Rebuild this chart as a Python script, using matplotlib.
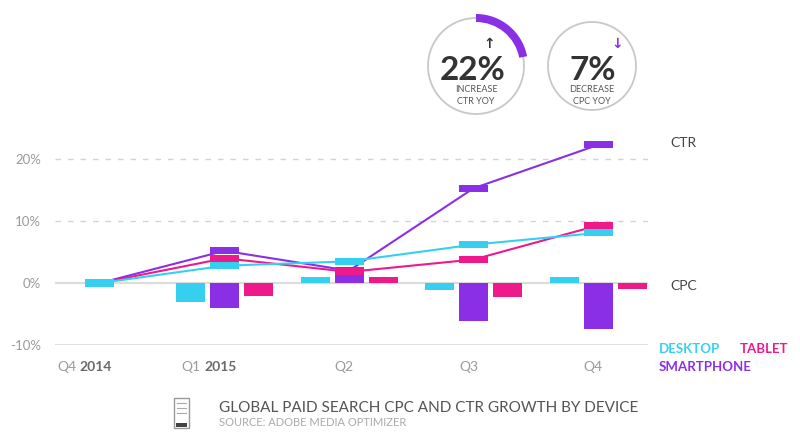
import numpy as np
import matplotlib
matplotlib.use("Agg")
import matplotlib.pyplot as plt
from matplotlib.patches import Circle, Wedge, Rectangle

plt.rcParams['font.family'] = ['Lato', 'DejaVu Sans']

quarters = ["Q4", "Q1", "Q2", "Q3", "Q4"]
years = ["2014", "2015", "", "", ""]
devices = ["DESKTOP", "SMARTPHONE", "TABLET"]
colors = {"DESKTOP": "#35d0f0", "SMARTPHONE": "#8b2fe6", "TABLET": "#ee1a8c"}

# CPC growth vs Q4 2014 (%)
cpc = {
    "DESKTOP":    [0.0, -3.1, 1.0, -1.1, 0.9],
    "SMARTPHONE": [0.0, -4.1, 1.5, -6.2, -7.4],
    "TABLET":     [0.0, -2.1, 1.0, -2.2, -0.9],
}
# CTR growth vs Q4 2014 (%)
ctr = {
    "DESKTOP":    [0.0, 2.8, 3.5, 6.2, 8.1],
    "SMARTPHONE": [0.0, 5.2, 2.0, 15.3, 22.3],
    "TABLET":     [0.0, 4.0, 1.8, 3.8, 9.3],
}
yticks = [-10, 0, 10, 20]

W, H = 800, 441
fig = plt.figure(figsize=(W / 100, H / 100), dpi=100)

# main chart axes, placed in pixels
left, right, top, bottom = 55, 648, 130, 345
ax = fig.add_axes([left / W, 1 - bottom / H, (right - left) / W, (bottom - top) / H])
x = np.arange(len(quarters))
ax.set_xlim(-0.361, 4.40)
ax.set_ylim(-10, 24.7)
for s in ax.spines.values():
    s.set_visible(False)
ax.set_xticks([])
ax.set_yticks(yticks)
ax.set_yticklabels([f"{t}%" for t in yticks], color="#9a9a9a", fontsize=9.5)
ax.tick_params(axis="y", length=0, pad=10)

ax.axhline(0, color="#dcdcdc", lw=1.6, zorder=0)
ax.axhline(-10, color="#dcdcdc", lw=2, zorder=0)
for t in (10, 20):
    ax.axhline(t, color="#d4d4d4", lw=1, ls=(0, (4, 5)), zorder=0)

bw = 0.233
offs = {"DESKTOP": -0.273, "SMARTPHONE": 0.0, "TABLET": 0.273}
for d in devices:
    ax.bar(x + offs[d], cpc[d], width=bw, color=colors[d], zorder=2)

# CTR lines with flat markers at the centre slot
for d in ["SMARTPHONE", "TABLET", "DESKTOP"]:
    ax.plot(x, ctr[d], color=colors[d], lw=1.5, zorder=3)
for d in ["SMARTPHONE", "TABLET", "DESKTOP"]:
    vals = np.array(ctr[d])
    ax.bar(x, np.full(len(x), 1.15), bottom=vals - 0.575, width=bw,
           color=colors[d], zorder=4)

# x labels
for i, (q, yr) in enumerate(zip(quarters, years)):
    if yr:
        ax.text(i - 0.19, -13.6, q, ha="right", va="center", color="#9a9a9a", fontsize=10)
        ax.text(i - 0.165, -13.6, yr, ha="left", va="center", color="#6a6a6a",
                fontsize=10, fontweight="bold")
    else:
        ax.text(i - 0.04, -13.6, q, ha="center", va="center", color="#9a9a9a", fontsize=10)

# overlay in pixel coordinates
ov = fig.add_axes([0, 0, 1, 1], zorder=5)
ov.set_xlim(0, W)
ov.set_ylim(H, 0)
ov.axis("off")
ov.patch.set_alpha(0)

ov.text(670, 143, "CTR", color="#444444", fontsize=10, va="center", ha="left")
ov.text(670, 286, "CPC", color="#444444", fontsize=10, va="center", ha="left")
ov.text(659, 349, "DESKTOP", color=colors["DESKTOP"], fontsize=9.5, fontweight="bold", va="center")
ov.text(740, 349, "TABLET", color=colors["TABLET"], fontsize=9.5, fontweight="bold", va="center")
ov.text(659, 367, "SMARTPHONE", color=colors["SMARTPHONE"], fontsize=9.5, fontweight="bold", va="center")

# KPI circles
ov.add_patch(Circle((476, 66), 48, fill=False, ec="#c8c8c8", lw=1.3))
ov.add_patch(Wedge((476, 66), 52, 270, 270 + 0.22 * 360, width=8, color=colors["SMARTPHONE"], lw=0))
ov.text(473, 71, "22%", fontsize=24, fontweight="bold", color="#333333", ha="center", va="center")
ov.text(489, 44, "↑", fontsize=10, fontweight="bold", color="#333333", ha="center", va="center",
        family=["DejaVu Sans"])
ov.text(476, 90, "INCREASE", fontsize=6.5, color="#555555", ha="center", va="center")
ov.text(476, 102, "CTR YOY", fontsize=6.5, color="#555555", ha="center", va="center")

ov.add_patch(Circle((592, 66), 44, fill=False, ec="#c8c8c8", lw=1.3))
ov.text(593, 71, "7%", fontsize=24, fontweight="bold", color="#333333", ha="center", va="center")
ov.text(617, 44, "↓", fontsize=10, fontweight="bold", color=colors["SMARTPHONE"], ha="center",
        va="center", family=["DejaVu Sans"])
ov.text(592, 90, "DECREASE", fontsize=6.5, color="#555555", ha="center", va="center")
ov.text(592, 102, "CPC YOY", fontsize=6.5, color="#555555", ha="center", va="center")

# footer icon and caption
ov.add_patch(Rectangle((174, 398), 15, 30, fill=False, ec="#9a9a9a", lw=1))
ov.add_patch(Rectangle((176, 423), 11, 4, color="#444444", lw=0))
for yy in (403, 408, 413):
    ov.plot([177, 186], [yy, yy], color="#aaaaaa", lw=0.8)
ov.text(219, 408, "GLOBAL PAID SEARCH CPC AND CTR GROWTH BY DEVICE", fontsize=11,
        color="#555555", va="center", ha="left")
ov.text(219, 423, "SOURCE: ADOBE MEDIA OPTIMIZER", fontsize=8, color="#aaaaaa",
        va="center", ha="left")

fig.savefig("out.png", dpi=100, facecolor="white")
